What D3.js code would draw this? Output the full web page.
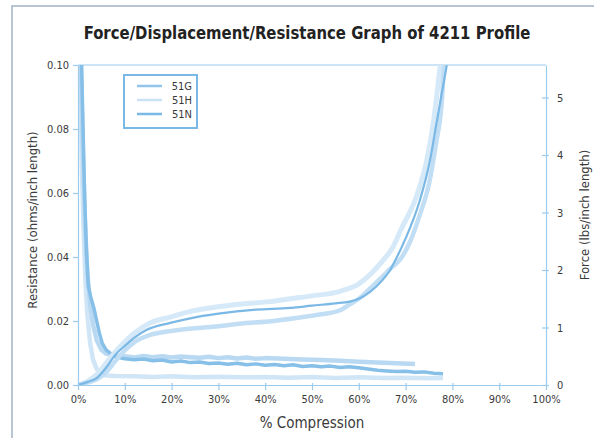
<!DOCTYPE html>
<html>
<head>
<meta charset="utf-8">
<script src="https://cdn.jsdelivr.net/npm/d3@7"></script>
<style>
  body { margin: 0; background: #fff; }
  text { font-family: "Liberation Sans Narrow", "DejaVu Sans Condensed", "Open Sans", sans-serif; fill: #3a3a3a; }
</style>
</head>
<body>
<div id="chart"></div>
<script>
// series names + colours
const seriesNames = ["51G", "51H", "51N"];
const seriesColors = ["#93c5ea", "#c9e2f5", "#7ab8e6"];

const xTicks = [0, 10, 20, 30, 40, 50, 60, 70, 80, 90, 100];
const resTicks = [0, 0.02, 0.04, 0.06, 0.08, 0.10];
const forceTicks = [0, 1, 2, 3, 4, 5];

// force curves: [% compression, lbs/inch]
const force51G = [[0,0],[2,0.04],[4,0.1],[6,0.22],[8,0.42],[10,0.6],[12,0.74],[15.4,0.87],[21.8,0.96],[30,1.02],[35,1.07],[40,1.1],[47,1.17],[52,1.23],[56,1.3],[58,1.4],[60,1.5],[62.4,1.68],[65,1.88],[66.7,2.02],[69,2.2],[71,2.5],[73,2.95],[75,3.5],[76.5,4.2],[77.8,5.0],[78.2,5.56]];
const force51H = [[0,0],[2,0.06],[4,0.18],[6,0.38],[8,0.58],[10,0.75],[12,0.9],[15.4,1.08],[19.7,1.18],[24,1.28],[30,1.36],[35,1.41],[41,1.45],[45.3,1.5],[50,1.55],[56,1.63],[60,1.76],[62.4,1.92],[65,2.15],[67.3,2.4],[69,2.7],[72.4,3.3],[74.5,3.9],[76,4.6],[76.9,5.2],[77.4,5.56]];
const force51N = [[0,0],[2,0.05],[4,0.12],[6,0.3],[7.9,0.52],[10,0.68],[12,0.82],[14.7,0.96],[19.7,1.08],[24,1.16],[30,1.24],[38,1.31],[45.3,1.34],[50,1.38],[55,1.42],[58,1.45],[60,1.5],[62.4,1.62],[65,1.82],[66.7,2.0],[68,2.2],[70,2.55],[73,3.2],[75.2,3.9],[76.7,4.6],[78.8,5.56]];

// resistance curves: [% compression, ohms/inch]
const res51G = [[0.5,0.11],[1,0.075],[1.5,0.05],[2,0.035],[2.6,0.025],[3.2,0.019],[4,0.014],[5,0.011],[6,0.0098],[8,0.0092],[10,0.009],[12,0.0086],[14,0.0091],[16,0.0087],[18,0.009],[20,0.0086],[22,0.0089],[24,0.0087],[26,0.0085],[28,0.0088],[30,0.0084],[32,0.0087],[34,0.0083],[36,0.0086],[38,0.0082],[40,0.0084],[44,0.0082],[48,0.008],[52,0.0078],[56,0.0076],[60,0.0073],[64,0.007],[68,0.0068],[72,0.0066]];
const res51H = [[0.4,0.11],[0.8,0.07],[1.2,0.048],[1.6,0.032],[2,0.022],[2.6,0.013],[3.2,0.008],[4,0.005],[5,0.0035],[6,0.003],[8,0.0028],[12,0.0027],[16,0.0025],[20,0.0027],[25,0.0024],[30,0.0026],[35,0.0024],[40,0.0025],[45,0.0023],[50,0.0025],[55,0.0022],[60,0.0024],[65,0.0022],[70,0.0023],[75,0.0021],[78,0.0022]];
const res51N = [[0.6,0.11],[1.0,0.085],[1.4,0.06],[1.8,0.042],[2.2,0.031],[2.8,0.027],[3.4,0.024],[4.0,0.02],[4.6,0.016],[5.2,0.013],[6,0.011],[7,0.0098],[8,0.0088],[10,0.0082],[12,0.0079],[14,0.0081],[16,0.0076],[18,0.0078],[20,0.0072],[22,0.0075],[24,0.007],[26,0.0072],[28,0.0067],[30,0.0069],[32,0.0065],[34,0.0068],[36,0.0063],[38,0.0066],[40,0.0062],[42,0.0064],[44,0.006],[46,0.0063],[48,0.0058],[50,0.006],[52,0.0057],[54,0.0059],[56,0.0055],[58,0.0057],[60,0.0054],[62,0.005],[64,0.0046],[66,0.0044],[68,0.0042],[70,0.0043],[72,0.004],[74,0.0041],[76,0.0037],[78,0.0035]];

const W = 594, H = 438;
const m = { left: 78, right: 48, top: 65, bottom: 53 };
const iw = W - m.left - m.right, ih = H - m.top - m.bottom;
const axisColor = "#9ccbee";

const svg = d3.select("#chart").append("svg")
  .attr("width", W)
  .attr("height", H);

// outer frame
svg.append("rect")
  .attr("x", 12).attr("y", 6)
  .attr("width", W).attr("height", H)
  .attr("fill", "none")
  .attr("stroke", "#a3b3c4")
  .attr("stroke-width", 1.5);

// title (squeezed a bit, narrow font)
svg.append("text")
  .attr("transform", "translate(307,39) scale(0.92,1)")
  .attr("text-anchor", "middle")
  .style("font-size", "18px")
  .style("font-weight", "bold")
  .style("fill", "#222")
  .text("Force/Displacement/Resistance Graph of 4211 Profile");

const x = d3.scaleLinear().domain([0, 100]).range([0, iw]);
const yRes = d3.scaleLinear().domain([0, 0.10]).range([ih, 0]);
const yForce = d3.scaleLinear().domain([0, 5.565]).range([ih, 0]);

const g = svg.append("g").attr("transform", `translate(${m.left},${m.top})`);

g.append("defs").append("clipPath").attr("id", "clip")
  .append("rect").attr("width", iw).attr("height", ih);

// frame line on top
g.append("line").attr("x1", 0).attr("x2", iw).attr("y1", 0).attr("y2", 0)
  .attr("stroke", axisColor).attr("stroke-width", 1.2);

const lineRes = d3.line().x(d => x(d[0])).y(d => yRes(d[1]));
const lineForce = d3.line().x(d => x(d[0])).y(d => yForce(d[1])).curve(d3.curveMonotoneX);

const plot = g.append("g").attr("clip-path", "url(#clip)");

const resData = [
  { data: res51H, color: "#d0e6f7", w: 4.5 },
  { data: res51G, color: "#b9d9f2", w: 4.5 },
  { data: res51N, color: "#86bfe8", w: 3.5 }
];
const forceData = [
  { data: force51H, color: "#d6e9f8", w: 5 },
  { data: force51G, color: "#c2def4", w: 4.5 },
  { data: force51N, color: "#7ab8e6", w: 2.2 }
];

plot.selectAll(".res").data(resData).enter().append("path")
  .attr("class", "res")
  .attr("d", d => lineRes(d.data))
  .attr("fill", "none")
  .attr("stroke", d => d.color)
  .attr("stroke-width", d => d.w)
  .attr("stroke-linejoin", "round");

plot.selectAll(".force").data(forceData).enter().append("path")
  .attr("class", "force")
  .attr("d", d => lineForce(d.data))
  .attr("fill", "none")
  .attr("stroke", d => d.color)
  .attr("stroke-width", d => d.w)
  .attr("stroke-linejoin", "round");

// axes
function styleAxis(sel) {
  sel.selectAll("path, line").attr("stroke", axisColor).attr("stroke-width", 1.2);
  sel.selectAll("text").style("font-size", "11px").style("fill", "#3a3a3a");
}

g.append("g")
  .attr("transform", `translate(0,${ih})`)
  .call(d3.axisBottom(x).tickValues(xTicks).tickFormat(d => d + "%").tickSizeInner(5).tickSizeOuter(0).tickPadding(5))
  .call(styleAxis)
  .call(a => a.selectAll(".tick line").attr("y1", -2));

g.append("g")
  .call(d3.axisLeft(yRes).tickValues(resTicks).tickFormat(d3.format(".2f")).tickSizeInner(5).tickSizeOuter(0).tickPadding(4))
  .call(styleAxis);

g.append("g")
  .attr("transform", `translate(${iw},0)`)
  .call(d3.axisRight(yForce).tickValues(forceTicks).tickFormat(d3.format("d")).tickSizeInner(3).tickSizeOuter(0).tickPadding(8))
  .call(styleAxis)
  .call(a => a.selectAll(".tick line").attr("x1", -4));

// axis titles
svg.append("text")
  .attr("x", m.left + iw / 2).attr("y", 428)
  .attr("text-anchor", "middle")
  .style("font-size", "15px")
  .text("% Compression");

svg.append("text")
  .attr("transform", `translate(37,${m.top + ih / 2 - 5}) rotate(-90)`)
  .attr("text-anchor", "middle")
  .style("font-size", "13px")
  .text("Resistance (ohms/inch length)");

svg.append("text")
  .attr("transform", `translate(589,${m.top + ih / 2 - 10}) rotate(-90)`)
  .attr("text-anchor", "middle")
  .style("font-size", "13px")
  .text("Force (lbs/inch length)");

// legend
const leg = svg.append("g").attr("transform", "translate(124,75)");
leg.append("rect")
  .attr("width", 73).attr("height", 53)
  .attr("fill", "#fff")
  .attr("stroke", "#7ab8e6")
  .attr("stroke-width", 2);

const items = leg.selectAll(".item").data(seriesNames).enter().append("g")
  .attr("transform", (d, i) => `translate(0,${11 + i * 14})`);
items.append("line")
  .attr("x1", 13).attr("x2", 38)
  .attr("stroke", (d, i) => seriesColors[i])
  .attr("stroke-width", 2.5);
items.append("text")
  .attr("x", 68).attr("y", 4)
  .attr("text-anchor", "end")
  .style("font-size", "11px")
  .text(d => d);
</script>
</body>
</html>
